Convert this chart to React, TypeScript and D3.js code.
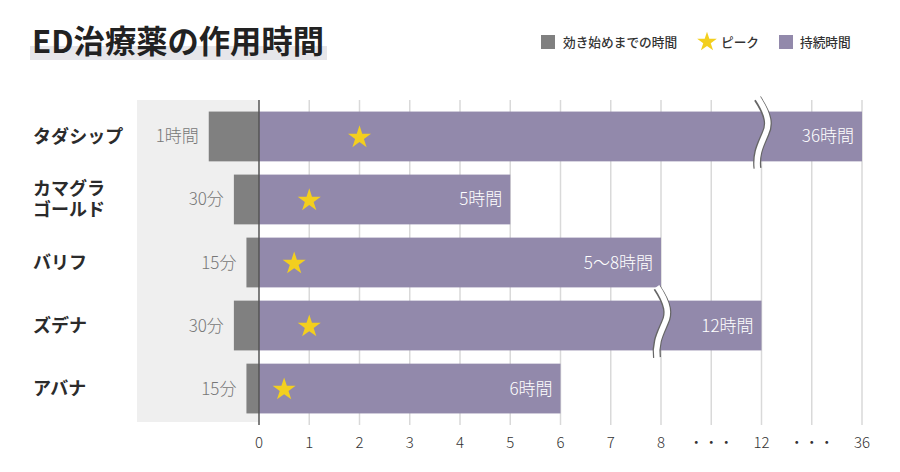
import React from "react";
import * as d3 from "d3";

const categories: string[][] = [["タダシップ"], ["カマグラ", "ゴールド"], ["バリフ"], ["ズデナ"], ["アバナ"]];
const onsetHours: number[] = [1, 0.5, 0.25, 0.5, 0.25];
const onsetLabels: string[] = ["1時間", "30分", "15分", "30分", "15分"];
const peakHours: number[] = [2, 1, 0.7, 1, 0.5];
const durationHours: number[] = [36, 5, 8, 12, 6];
const durationLabels: string[] = ["36時間", "5時間", "5〜8時間", "12時間", "6時間"];
const breakAt: (number | null)[] = [12, null, null, 8, null];
const tickLabels: string[] = ["0", "1", "2", "3", "4", "5", "6", "7", "8", "・・・", "12", "・・・", "36"];
const legendItems: string[] = ["効き始めまでの時間", "ピーク", "持続時間"];

const slot = (v: number) => (v <= 8 ? v : v === 12 ? 10 : v === 36 ? 12 : v);

const FONT = "'Noto Sans CJK JP', 'Noto Sans', sans-serif";
const PURPLE = "#9289ab";
const GREY = "#808080";
const STAR = "#f3cf1e";

export default function App() {
  const x = d3.scaleLinear().domain([0, 12]).range([259, 862]);
  const y = d3
    .scaleBand<number>()
    .domain(d3.range(categories.length))
    .range([104, 421])
    .paddingInner(0.21)
    .paddingOuter(0.12);
  const bh = y.bandwidth();
  const starPath = d3.symbol(d3.symbolStar, 165)() as string;
  const legendStar = d3.symbol(d3.symbolStar, 120)() as string;
  const gridTop = 100;
  const gridBottom = 425;

  const breakPath = (cx: number, top: number, bottom: number) => {
    const mid = (top + bottom) / 2;
    return `M${cx - 4},${top} C${cx + 8},${top + 18} ${cx + 8},${mid - 8} ${cx + 4},${mid} C${cx},${mid + 10} ${cx - 6},${bottom - 16} ${cx - 4},${bottom}`;
  };

  return (
    <svg
      width={900}
      height={472}
      style={{ position: "absolute", left: 0, top: 0, background: "#fff" }}
      fontFamily={FONT}
    >
      {/* Title */}
      <rect x={30} y={46} width={297} height={14} fill="#e6e6ea" />
      <text x={32} y={53} fontSize={31.3} fontWeight={700} fill="#222">
        ED治療薬の作用時間
      </text>

      {/* Legend */}
      <g fontSize={12.7} fontWeight={500} fill="#333">
        <rect x={541} y={35} width={14} height={14} fill={GREY} />
        <text x={563} y={46.5}>{legendItems[0]}</text>
        <path d={legendStar} transform="translate(707,42)" fill={STAR} />
        <text x={721} y={46.5}>{legendItems[1]}</text>
        <rect x={779} y={35} width={14} height={14} fill={PURPLE} />
        <text x={800} y={46.5}>{legendItems[2]}</text>
      </g>

      {/* Onset background */}
      <rect x={137} y={gridTop} width={x(0) - 137} height={gridBottom - gridTop - 3} fill="#efefef" />

      {/* Grid */}
      {tickLabels.map((t, i) =>
        i === 0 ? null : (
          <line key={i} x1={x(i)} x2={x(i)} y1={gridTop} y2={gridBottom} stroke="#d9d9d9" strokeWidth={1.5} />
        )
      )}

      {/* Bars */}
      {categories.map((c, i) => {
        const yy = y(i) as number;
        return (
          <g key={i}>
            <rect x={x(-onsetHours[i])} y={yy} width={x(0) - x(-onsetHours[i])} height={bh} fill={GREY} />
            <rect x={x(0)} y={yy} width={x(slot(durationHours[i])) - x(0)} height={bh} fill={PURPLE} />
            <text
              x={x(-onsetHours[i]) - 10}
              y={yy + bh / 2 + 6}
              textAnchor="end"
              fontSize={17}
              fontWeight={300}
              fill="#777"
            >
              {onsetLabels[i]}
            </text>
            <text
              x={x(slot(durationHours[i])) - 8}
              y={yy + bh / 2 + 6}
              textAnchor="end"
              fontSize={17}
              fontWeight={300}
              fill="#fff"
            >
              {durationLabels[i]}
            </text>
            <path d={starPath} transform={`translate(${x(peakHours[i])},${yy + bh / 2 + 1})`} fill={STAR} />
            {breakAt[i] !== null && (
              <g fill="none">
                <path d={breakPath(x(slot(breakAt[i] as number)), yy - 13, yy + bh + 7)} stroke="#666" strokeWidth={8} />
                <path d={breakPath(x(slot(breakAt[i] as number)), yy - 14, yy + bh + 8)} stroke="#fff" strokeWidth={5.5} />
              </g>
            )}
            {c.length === 1 ? (
              <text x={33} y={yy + bh / 2 + 6.5} fontSize={18} fontWeight={700} fill="#2b2b2b">
                {c[0]}
              </text>
            ) : (
              c.map((line, j) => (
                <text key={j} x={33} y={yy + bh / 2 - 4 + j * 21} fontSize={18} fontWeight={700} fill="#2b2b2b">
                  {line}
                </text>
              ))
            )}
          </g>
        );
      })}

      {/* Zero line */}
      <line x1={x(0)} x2={x(0)} y1={gridTop} y2={gridBottom} stroke="#555" strokeWidth={1.5} />

      {/* Tick labels */}
      {tickLabels.map((t, i) => (
        <text key={i} x={x(i)} y={448} textAnchor="middle" fontSize={15} fontWeight={300} fill="#333">
          {t}
        </text>
      ))}
    </svg>
  );
}
